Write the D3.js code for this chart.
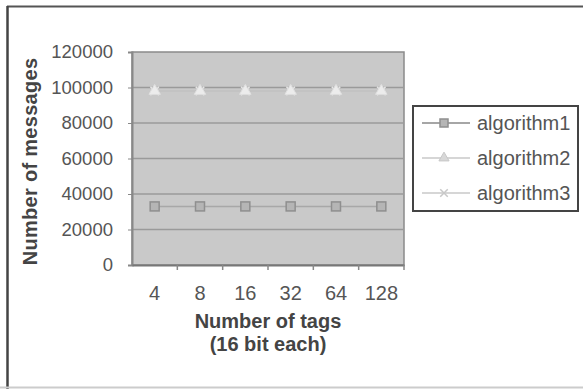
<!DOCTYPE html>
<html>
<head>
<meta charset="utf-8">
<script src="https://cdn.jsdelivr.net/npm/d3@7"></script>
<style>
  body { margin: 0; background: #fff; }
  svg text { font-family: "Liberation Sans", Arial, sans-serif; fill: #555; }
  .title { font-weight: bold; fill: #444; }
</style>
</head>
<body>
<svg id="chart" width="583" height="389"></svg>
<script>
const tags = ["4", "8", "16", "32", "64", "128"];
const algorithm1 = [33000, 33000, 33000, 33000, 33000, 33000];
const algorithm2 = [98000, 98000, 98000, 98000, 98000, 98000];
const algorithm3 = [98000, 98000, 98000, 98000, 98000, 98000];
const seriesNames = ["algorithm1", "algorithm2", "algorithm3"];
const yTicks = [0, 20000, 40000, 60000, 80000, 100000, 120000];

const plot = { left: 132, right: 404, top: 52, bottom: 265 };
const svg = d3.select("#chart");

// scanned figure edge: dark top/left, faint bottom
svg.append("line").attr("x1", 7).attr("x2", 583).attr("y1", 6.5).attr("y2", 6.5)
    .attr("stroke", "#555").attr("stroke-width", 2);
svg.append("line").attr("x1", 7.5).attr("x2", 7.5).attr("y1", 6).attr("y2", 389)
    .attr("stroke", "#444").attr("stroke-width", 2.5);
svg.append("line").attr("x1", 0).attr("x2", 583).attr("y1", 387.5).attr("y2", 387.5)
    .attr("stroke", "#ccc").attr("stroke-width", 2);

const x = d3.scaleBand().domain(tags).range([plot.left, plot.right]);
const y = d3.scaleLinear().domain([0, 120000]).range([plot.bottom, plot.top]);

svg.append("rect").attr("x", plot.left).attr("y", plot.top)
    .attr("width", plot.right - plot.left).attr("height", plot.bottom - plot.top)
    .attr("fill", "#c9c9c9").attr("stroke", "#8a8a8a").attr("stroke-width", 1.5);

// gridlines
svg.append("g").selectAll("line").data(yTicks.filter(d => d > 0 && d < 120000)).enter().append("line")
    .attr("x1", plot.left).attr("x2", plot.right)
    .attr("y1", d => y(d)).attr("y2", d => y(d))
    .attr("stroke", "#9a9a9a").attr("stroke-width", 1.5);

// y axis
const yAxis = svg.append("g").attr("transform", `translate(${plot.left},0)`)
    .call(d3.axisLeft(y).tickValues(yTicks).tickSize(4).tickPadding(15).tickFormat(d3.format("d")));
yAxis.select(".domain").attr("stroke", "#888").attr("stroke-width", 2);
yAxis.selectAll(".tick line").attr("stroke", "#888");
yAxis.selectAll("text").style("font-size", "18.5px").attr("fill", "#555")
    .style("font-family", "Liberation Sans, Arial, sans-serif");

// x axis
const xAxis = svg.append("g").attr("transform", `translate(0,${plot.bottom})`)
    .call(d3.axisBottom(x).tickSize(0).tickPadding(21));
xAxis.select(".domain").attr("stroke", "#777").attr("stroke-width", 2);
xAxis.selectAll("text").style("font-size", "20px").attr("fill", "#555")
    .style("font-family", "Liberation Sans, Arial, sans-serif");
xAxis.selectAll(".sep").data(tags.slice(1).concat(["end"])).enter().append("line")
    .attr("x1", (d, i) => plot.left + x.step() * (i + 1)).attr("x2", (d, i) => plot.left + x.step() * (i + 1))
    .attr("y1", 0).attr("y2", 5).attr("stroke", "#888").attr("stroke-width", 1.5);

// series
const cx = d => x(d) + x.bandwidth() / 2;
const line = d3.line().x((d, i) => cx(tags[i])).y(d => y(d));
const styles = [
    { data: algorithm1, line: "#a8a8a8", marker: "square", fill: "#b5b5b5", stroke: "#8f8f8f" },
    { data: algorithm2, line: "#bdbdbd", marker: "triangle", fill: "#ececec", stroke: "#e0e0e0" },
    { data: algorithm3, line: "#c4c4c4", marker: "x", fill: "none", stroke: "#e6e6e6" }
];

function drawMarker(g, type, st, size) {
    if (type === "square") {
        g.append("rect").attr("x", -size / 2).attr("y", -size / 2).attr("width", size).attr("height", size)
            .attr("fill", st.fill).attr("stroke", st.stroke).attr("stroke-width", 1.5);
    } else if (type === "triangle") {
        g.append("path").attr("d", d3.symbol(d3.symbolTriangle, size * size * 0.7)())
            .attr("fill", st.fill).attr("stroke", st.stroke);
    } else {
        g.append("path").attr("d", d3.symbol(d3.symbolX, size * size * 0.6)())
            .attr("fill", "none").attr("stroke", st.stroke).attr("stroke-width", 1.5);
    }
}

styles.forEach(st => {
    svg.append("path").datum(st.data).attr("d", line).attr("fill", "none")
        .attr("stroke", st.line).attr("stroke-width", 1.5);
});
styles.slice().reverse().forEach(st => {
    st.data.forEach((v, i) => {
        const g = svg.append("g").attr("transform", `translate(${cx(tags[i])},${y(v)})`);
        drawMarker(g, st.marker, st, 9);
    });
});

// axis titles
svg.append("text").attr("class", "title")
    .attr("transform", `translate(37,${(plot.top + plot.bottom) / 2 + 3}) rotate(-90)`)
    .attr("text-anchor", "middle").style("font-size", "20px").style("letter-spacing", "0.3px")
    .text("Number of messages");
svg.append("text").attr("class", "title").attr("x", 268).attr("y", 328)
    .attr("text-anchor", "middle").style("font-size", "20px").text("Number of tags");
svg.append("text").attr("class", "title").attr("x", 268).attr("y", 351)
    .attr("text-anchor", "middle").style("font-size", "20px").text("(16 bit each)");

// legend
const legend = svg.append("g").attr("transform", "translate(413,106)");
legend.append("rect").attr("width", 165).attr("height", 105)
    .attr("fill", "#fff").attr("stroke", "#444").attr("stroke-width", 2);
seriesNames.forEach((name, i) => {
    const st = styles[i];
    const ly = 17 + i * 35;
    legend.append("line").attr("x1", 9).attr("x2", 57).attr("y1", ly).attr("y2", ly)
        .attr("stroke", i === 0 ? "#888" : "#c8c8c8").attr("stroke-width", 1.5);
    const g = legend.append("g").attr("transform", `translate(31,${ly})`);
    drawMarker(g, st.marker, i === 0 ? st : { fill: "#d8d8d8", stroke: "#c8c8c8" }, 8);
    legend.append("text").attr("x", 64).attr("y", ly + 7).style("font-size", "20px").attr("fill", "#555").text(name);
});
</script>
</body>
</html>
